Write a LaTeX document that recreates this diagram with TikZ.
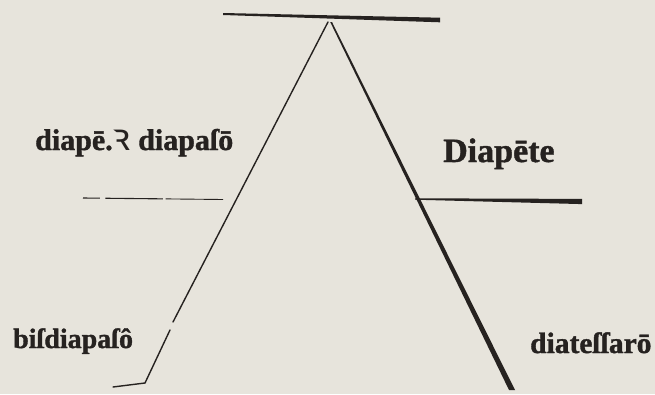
\documentclass[tikz,border=0pt]{standalone}
\usepackage{fontspec}
\setmainfont{Liberation Serif}[BoldFeatures={FakeBold=1.2}]
\newfontfamily\symf{Noto Sans}[BoldFeatures={FakeBold=1.5}]
\usetikzlibrary{calc}
\definecolor{paper}{RGB}{231,228,220}
\definecolor{ink}{RGB}{38,34,32}
\tikzset{
  lab/.style={anchor=base west, inner sep=0pt, text=ink, font=\fontsize{30}{34}\selectfont\bfseries},
  thinline/.style={draw=ink, line width=1.4pt, line cap=round},
}
\begin{document}
\begin{tikzpicture}[x=1pt,y=-1pt]
\fill[paper] (0,0) rectangle (655,394);
\useasboundingbox (0,0) rectangle (655,394);
% points
\coordinate (topL) at (223,14);
\coordinate (topR) at (440,20);
\coordinate (apexL) at (328,22);
\coordinate (apexR) at (331,22);
\coordinate (gapA) at (173,322);
\coordinate (gapB) at (170,330);
\coordinate (footL) at (145,383);
\coordinate (tickL) at (113,387);
\coordinate (footR) at (512,390);
\coordinate (midLa) at (83,198);
\coordinate (midLb) at (223,199.5);
\coordinate (midRa) at (415,199);
\coordinate (midRb) at (582,201.5);
% top bar (tapered)
\fill[ink] ($(topL)+(0,-1)$) -- ($(topR)+(0,-2.3)$) -- ($(topR)+(0,2.3)$) -- ($(topL)+(0,1)$) -- cycle;
% right diagonal (thickening downward)
\fill[ink] ($(apexR)+(-0.8,0)$) -- ($(footR)+(-3,0)$) -- ($(footR)+(3,0)$) -- ($(apexR)+(1,0)$) -- cycle;
% left diagonal (thin, broken)
\draw[thinline] (apexL) -- (gapA);
\draw[thinline] (gapB) -- (footL) -- (tickL);
% left middle line (thin, broken)
\draw[ink, line width=1.1pt] (midLa) -- ($(midLa)!0.12!(midLb)$);
\draw[ink, line width=1.1pt] ($(midLa)!0.16!(midLb)$) -- ($(midLa)!0.57!(midLb)$);
\draw[ink, line width=0.9pt] ($(midLa)!0.59!(midLb)$) -- (midLb);
% right middle line (tapered)
\fill[ink] ($(midRa)+(0,-0.7)$) -- ($(midRb)+(0,-2.6)$) -- ($(midRb)+(0,2.6)$) -- ($(midRa)+(0,0.7)$) -- cycle;
% labels
\node[lab] (l1) at (35,150) {diapē.{\symf\fontsize{38}{40}\selectfont\bfseries ꝛ} diapaſō};
\node[lab, font=\fontsize{34}{38}\selectfont\bfseries] (l2) at (443,162) {Diapēte};
\node[lab, font=\fontsize{28}{32}\selectfont\bfseries] (l3) at (13,348) {biſdiapaſô};
\node[lab, font=\fontsize{29.5}{33}\selectfont\bfseries] (l4) at (530,353) {diateſſarō};
\end{tikzpicture}
\end{document}
